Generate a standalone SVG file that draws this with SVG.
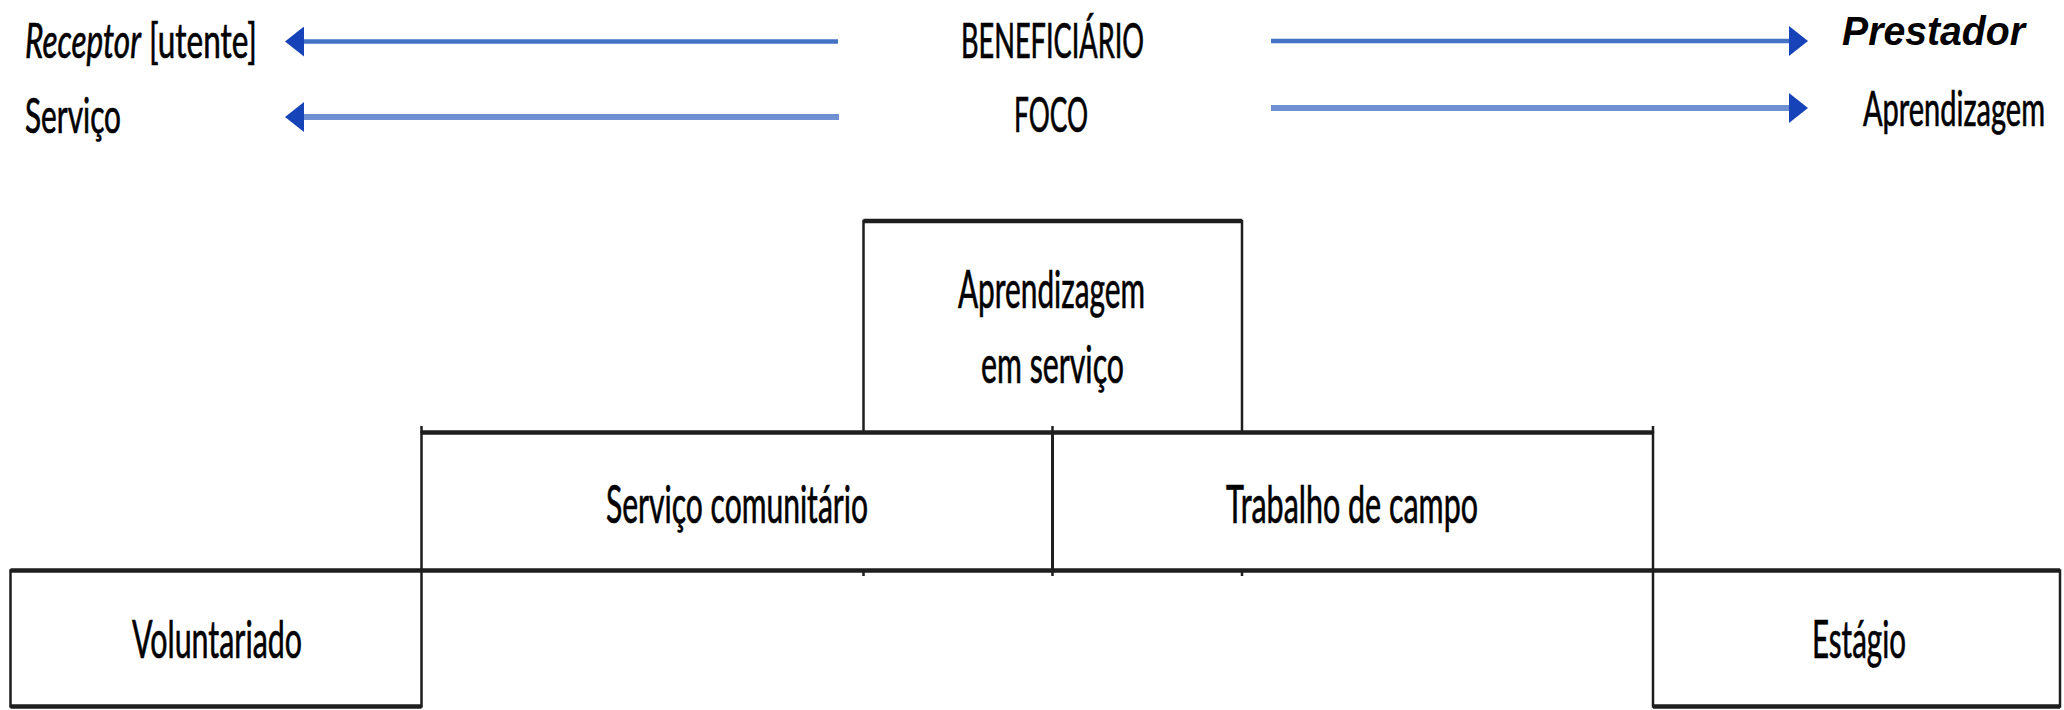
<svg xmlns="http://www.w3.org/2000/svg" width="2064" height="710" viewBox="0 0 2064 710">
<style>
  .lbl { font-family: Lato, "Open Sans", "Liberation Sans", sans-serif; fill: #000; stroke: #000; stroke-width: 0.7; }
  .top { font-size: 48px; }
  .box { font-size: 53px; }
  .pre { font-family: "Liberation Sans", Arial, sans-serif; font-weight: bold; font-style: italic; font-size: 41px; fill: #000; }
  .frame { fill: none; stroke: #1e1e1e; stroke-width: 2.5; }
  .hl { stroke: #1e1e1e; stroke-width: 4.5; }
  .tick { stroke: #1e1e1e; stroke-width: 2.5; }
  .a1 { stroke: #4472c4; stroke-width: 4.5; fill: none; }
  .a2 { stroke: #6f90d3; stroke-width: 6; fill: none; }
</style>
<defs>
  <marker id="head" markerUnits="userSpaceOnUse" markerWidth="20" markerHeight="30" refX="1" refY="15" orient="auto">
    <path d="M0,0 L19,15 L0,30 Z" fill="#1743b8"/>
  </marker>
</defs>
<rect width="2064" height="710" fill="#ffffff"/>

<g id="connectors">
  <line class="a1" x1="838" y1="41.5" x2="303" y2="41.5" marker-end="url(#head)"/>
  <line class="a2" x1="839" y1="117" x2="303" y2="117" marker-end="url(#head)"/>
  <line class="a1" x1="1271" y1="41" x2="1790" y2="41" marker-end="url(#head)"/>
  <line class="a2" x1="1271" y1="108" x2="1790" y2="108" marker-end="url(#head)"/>
</g>

<g id="receptor">
  <text class="lbl top" x="25" y="58" textLength="232" lengthAdjust="spacingAndGlyphs"><tspan font-style="italic">Receptor</tspan> [utente]</text>
</g>
<g id="servico">
  <text class="lbl top" x="25" y="133" textLength="96" lengthAdjust="spacingAndGlyphs">Serviço</text>
</g>
<g id="beneficiario">
  <text class="lbl top" x="961" y="58" textLength="183" lengthAdjust="spacingAndGlyphs">BENEFICIÁRIO</text>
</g>
<g id="foco">
  <text class="lbl top" x="1014" y="132" textLength="74" lengthAdjust="spacingAndGlyphs">FOCO</text>
</g>
<g id="prestador">
  <text class="pre" x="1842" y="45" textLength="183" lengthAdjust="spacingAndGlyphs">Prestador</text>
</g>
<g id="aprendizagem">
  <text class="lbl top" x="2045" y="126" text-anchor="end" textLength="182" lengthAdjust="spacingAndGlyphs">Aprendizagem</text>
</g>

<g id="aprendizagem-em-servico">
  <rect class="frame" x="863.5" y="221" width="378.5" height="211.5"/>
  <line class="hl" x1="863.5" y1="221" x2="1242" y2="221"/>
  <text class="lbl box" x="958" y="308" textLength="187" lengthAdjust="spacingAndGlyphs">Aprendizagem</text>
  <text class="lbl box" x="981" y="383" textLength="143" lengthAdjust="spacingAndGlyphs">em serviço</text>
</g>
<g id="servico-comunitario">
  <rect class="frame" x="421.5" y="432.5" width="631" height="138"/>
  <line class="hl" x1="421.5" y1="432.5" x2="1052.5" y2="432.5"/>
  <text class="lbl box" x="606" y="523" textLength="262" lengthAdjust="spacingAndGlyphs">Serviço comunitário</text>
</g>
<g id="trabalho-de-campo">
  <rect class="frame" x="1052.5" y="432.5" width="600.5" height="138"/>
  <line class="hl" x1="1052.5" y1="432.5" x2="1653" y2="432.5"/>
  <text class="lbl box" x="1226" y="523" textLength="252" lengthAdjust="spacingAndGlyphs">Trabalho de campo</text>
</g>
<g id="voluntariado">
  <rect class="frame" x="10.5" y="570.5" width="411" height="136"/>
  <line class="hl" x1="10.5" y1="570.5" x2="421.5" y2="570.5"/>
  <line class="hl" x1="10.5" y1="706.5" x2="421.5" y2="706.5"/>
  <text class="lbl box" x="132" y="658" textLength="170" lengthAdjust="spacingAndGlyphs">Voluntariado</text>
</g>
<g id="estagio">
  <rect class="frame" x="1653" y="570.5" width="407" height="136"/>
  <line class="hl" x1="1653" y1="570.5" x2="2060" y2="570.5"/>
  <line class="hl" x1="1653" y1="706.5" x2="2060" y2="706.5"/>
  <text class="lbl box" x="1812" y="658" textLength="94" lengthAdjust="spacingAndGlyphs">Estágio</text>
</g>
<g id="base-line">
  <line class="hl" x1="421.5" y1="570.5" x2="1653" y2="570.5"/>
  <line class="tick" x1="421.5" y1="426" x2="421.5" y2="433"/>
  <line class="tick" x1="1052.5" y1="426" x2="1052.5" y2="576"/>
  <line class="tick" x1="1653" y1="426" x2="1653" y2="433"/>
  <line class="tick" x1="863.5" y1="570" x2="863.5" y2="576"/>
  <line class="tick" x1="1242" y1="570" x2="1242" y2="576"/>
</g>
</svg>
